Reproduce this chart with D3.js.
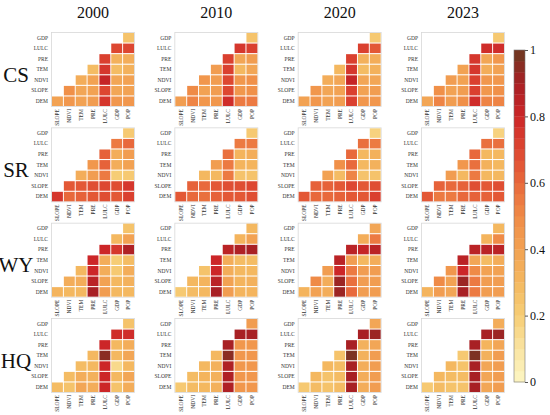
<!DOCTYPE html>
<html><head><meta charset="utf-8">
<script src="https://cdn.jsdelivr.net/npm/d3@7"></script>
<style>body{margin:0;background:#fff}svg{display:block}svg text{font-family:"Liberation Serif","DejaVu Serif","Times New Roman",serif !important}</style>
</head><body><svg id="c" width="550" height="415"></svg>
<script>
const years = ["2000","2010","2020","2023"];
const regions = ["CS","SR","WY","HQ"];
const rowVars = ["GDP","LULC","PRE","TEM","NDVI","SLOPE","DEM"];
const colVars = ["SLOPE","NDVI","TEM","PRE","LULC","GDP","POP"];
const cbTicks = [0,0.2,0.4,0.6,0.8,1];

// each panel: rows top->bottom (GDP..DEM), values for the filled cells left->right
const CS = [
 [[0.25],[0.7,0.7],[0.72,0.33,0.35],[0.28,0.75,0.28,0.33],[0.35,0.4,0.82,0.38,0.4],[0.48,0.38,0.4,0.7,0.38,0.4],[0.4,0.45,0.4,0.42,0.75,0.45,0.45]],
 [[0.25],[0.75,0.72],[0.72,0.38,0.42],[0.42,0.72,0.3,0.38],[0.45,0.42,0.7,0.45,0.48],[0.5,0.4,0.42,0.7,0.45,0.48],[0.42,0.52,0.45,0.45,0.78,0.55,0.55]],
 [[0.22],[0.72,0.65],[0.72,0.33,0.35],[0.3,0.75,0.28,0.33],[0.35,0.38,0.82,0.38,0.38],[0.45,0.38,0.4,0.72,0.4,0.42],[0.4,0.45,0.4,0.42,0.72,0.45,0.45]],
 [[0.22],[0.78,0.78],[0.75,0.38,0.45],[0.4,0.75,0.35,0.4],[0.42,0.4,0.72,0.45,0.45],[0.48,0.4,0.42,0.72,0.45,0.48],[0.38,0.52,0.42,0.48,0.78,0.52,0.52]]
];
const SR = [
 [[0.22],[0.55,0.6],[0.62,0.35,0.42],[0.45,0.62,0.35,0.4],[0.35,0.42,0.55,0.2,0.22],[0.65,0.65,0.68,0.7,0.68,0.75],[0.75,0.6,0.62,0.65,0.68,0.65,0.72]],
 [[0.22],[0.55,0.55],[0.58,0.32,0.35],[0.42,0.55,0.32,0.32],[0.3,0.3,0.55,0.25,0.25],[0.62,0.6,0.65,0.68,0.68,0.7],[0.65,0.6,0.58,0.62,0.65,0.65,0.68]],
 [[0.18],[0.58,0.55],[0.6,0.3,0.33],[0.48,0.6,0.3,0.33],[0.4,0.28,0.52,0.25,0.25],[0.62,0.62,0.65,0.7,0.65,0.68],[0.65,0.6,0.6,0.62,0.65,0.65,0.72]],
 [[0.18],[0.58,0.58],[0.6,0.3,0.3],[0.45,0.58,0.33,0.3],[0.42,0.3,0.55,0.3,0.3],[0.62,0.6,0.62,0.68,0.65,0.68],[0.65,0.55,0.55,0.6,0.62,0.62,0.65]]
];
const WY = [
 [[0.25],[0.3,0.4],[0.8,0.75,0.88],[0.8,0.35,0.2,0.28],[0.3,0.8,0.35,0.22,0.35],[0.35,0.35,0.85,0.4,0.3,0.33],[0.32,0.3,0.3,0.9,0.42,0.3,0.3]],
 [[0.3],[0.32,0.4],[0.85,0.88,0.9],[0.8,0.35,0.28,0.28],[0.25,0.8,0.35,0.3,0.3],[0.3,0.32,0.85,0.4,0.32,0.33],[0.22,0.28,0.3,0.9,0.42,0.32,0.32]],
 [[0.38],[0.35,0.55],[0.85,0.82,0.85],[0.85,0.42,0.3,0.35],[0.42,0.8,0.55,0.42,0.42],[0.5,0.35,0.92,0.58,0.42,0.42],[0.32,0.4,0.35,0.92,0.6,0.42,0.42]],
 [[0.3],[0.32,0.5],[0.85,0.85,0.85],[0.85,0.38,0.28,0.35],[0.45,0.8,0.5,0.4,0.4],[0.5,0.4,0.92,0.55,0.42,0.42],[0.32,0.42,0.38,0.9,0.55,0.42,0.42]]
];
const HQ = [
 [[0.25],[0.78,0.78],[0.8,0.3,0.35],[0.3,0.95,0.3,0.38],[0.28,0.3,0.8,0.15,0.3],[0.28,0.35,0.33,0.8,0.3,0.38],[0.28,0.25,0.38,0.35,0.8,0.25,0.35]],
 [[0.42],[0.9,0.9],[0.9,0.45,0.45],[0.3,0.95,0.45,0.45],[0.3,0.33,0.88,0.45,0.45],[0.28,0.32,0.33,0.88,0.45,0.45],[0.22,0.28,0.3,0.33,0.88,0.45,0.45]],
 [[0.38],[0.9,0.92],[0.9,0.33,0.38],[0.25,0.97,0.33,0.42],[0.3,0.28,0.9,0.35,0.42],[0.3,0.25,0.28,0.9,0.35,0.42],[0.22,0.28,0.25,0.28,0.9,0.35,0.42]],
 [[0.35],[0.9,0.92],[0.9,0.32,0.38],[0.22,0.97,0.33,0.42],[0.3,0.25,0.9,0.38,0.42],[0.3,0.28,0.28,0.9,0.38,0.42],[0.22,0.28,0.25,0.25,0.9,0.38,0.42]]
];
const panels = {CS, SR, WY, HQ};

const color = d3.scaleLinear()
  .domain([0,0.1,0.2,0.3,0.4,0.5,0.6,0.7,0.8,0.9,1])
  .range(["#fdf6c3","#f9e4a2","#f6cd76","#f4b860","#f2a253","#ef8b47","#e8693c","#dd4731","#cc2628","#a82024","#6b3a22"])
  .clamp(true);

const FONT = '"Liberation Serif","DejaVu Serif",serif';
const svg = d3.select("#c");
const W = 82, H = 73;
const colX = d3.scaleLinear().domain([0,3]).range([52,422]);
const rowY = d3.scaleLinear().domain([0,3]).range([33,319]);

years.forEach((yr,ci)=>{
  svg.append("text").attr("x", colX(ci)+W/2).attr("y",18).attr("text-anchor","middle")
    .style("font-family",FONT).attr("font-size",16).attr("fill","#111").text(yr);
});
regions.forEach((rg,ri)=>{
  svg.append("text").attr("x",16).attr("y",rowY(ri)+H/2+12).attr("text-anchor","middle")
    .style("font-family",FONT).attr("font-size",21).attr("fill","#111").text(rg);
});

const x = d3.scaleBand().domain(colVars).range([0,W]).paddingInner(0.08);
const y = d3.scaleBand().domain(rowVars).range([0,H]).paddingInner(0.1);

regions.forEach((rg,ri)=>{
  years.forEach((yr,ci)=>{
    const g = svg.append("g").attr("transform",`translate(${colX(ci)},${rowY(ri)})`);
    g.append("rect").attr("x",-0.5).attr("y",-0.5).attr("width",W+1).attr("height",H+1)
      .attr("fill","#fff").attr("stroke","#d8d8d8").attr("stroke-width",0.8);
    const cells = [];
    panels[rg][ci].forEach((vals,r)=>{
      const start = colVars.length - vals.length;
      vals.forEach((v,k)=>cells.push({r:rowVars[r], c:colVars[start+k], v}));
    });
    g.selectAll("rect.cell").data(cells).join("rect").attr("class","cell")
      .attr("x",d=>x(d.c)).attr("y",d=>y(d.r))
      .attr("width",x.bandwidth()).attr("height",y.bandwidth())
      .attr("fill",d=>color(d.v));
    const ya = g.append("g").call(d3.axisLeft(y).tickSize(0).tickPadding(4));
    ya.attr("font-family",null);
    ya.select(".domain").remove();
    ya.selectAll("text").attr("font-size",5.5).attr("fill","#333").style("font-family",FONT);
    const xa = g.append("g").attr("transform",`translate(0,${H})`).call(d3.axisBottom(x).tickSize(0));
    xa.attr("font-family",null);
    xa.select(".domain").remove();
    xa.selectAll("text").attr("font-size",5.5).attr("fill","#333").style("font-family",FONT)
      .attr("transform","rotate(-90)").attr("text-anchor","end")
      .attr("x",-3).attr("y",0).attr("dy","0.35em");
  });
});

// colorbar
const cbX = 514, cbW = 11, cbTop = 50, cbBot = 382;
const cy = d3.scaleLinear().domain([0,1]).range([cbBot,cbTop]);
const nb = 30;
const bands = d3.range(nb).map(i=>({a:i/nb,b:(i+1)/nb}));
svg.append("g").selectAll("rect").data(bands).join("rect")
  .attr("x",cbX).attr("width",cbW)
  .attr("y",d=>cy(d.b)).attr("height",d=>cy(d.a)-cy(d.b)+0.3)
  .attr("fill",d=>color((d.a+d.b)/2));
svg.append("rect").attr("x",cbX).attr("y",cbTop).attr("width",cbW).attr("height",cbBot-cbTop)
  .attr("fill","none").attr("stroke","#777").attr("stroke-width",0.6);
const ca = svg.append("g").attr("transform",`translate(${cbX+cbW},0)`)
  .call(d3.axisRight(cy).tickValues(cbTicks).tickSize(3).tickPadding(2).tickFormat(d3.format("~g")));
ca.attr("font-family",null);
ca.select(".domain").remove();
ca.selectAll("line").attr("stroke","#555");
ca.selectAll("text").attr("font-size",12).attr("fill","#111").style("font-family",FONT);
</script></body></html>
